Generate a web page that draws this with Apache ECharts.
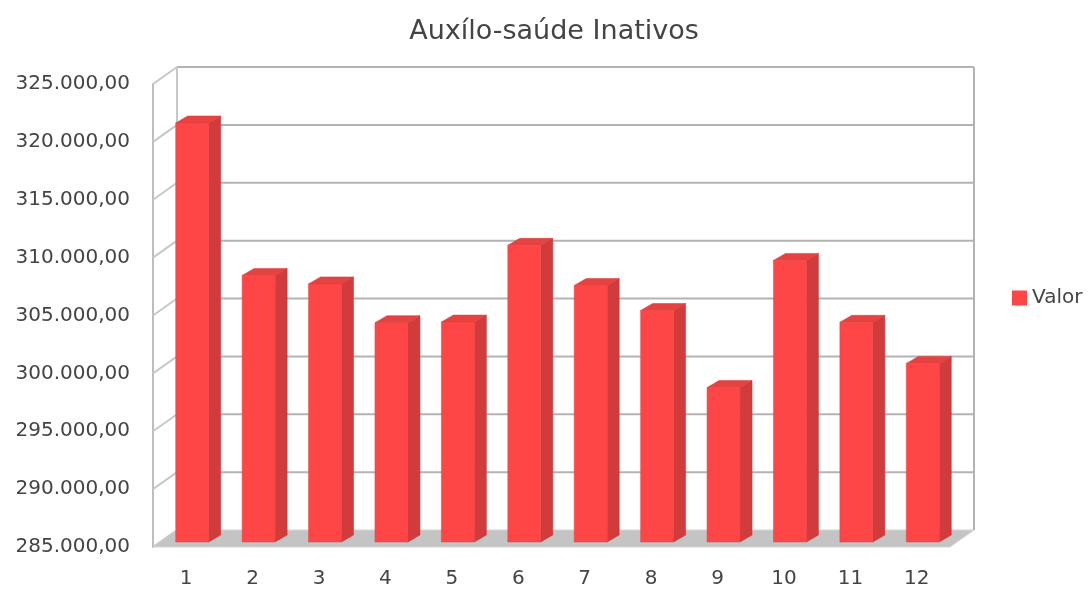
<!DOCTYPE html>
<html>
<head>
<meta charset="utf-8">
<script src="https://cdn.jsdelivr.net/npm/echarts@6/dist/echarts.min.js"></script>
<style>
html,body{margin:0;padding:0;background:#fff;}
#chart{width:1089px;height:591px;}
</style>
</head>
<body>
<div id="chart"></div>
<script>
const titleText = 'Auxílo-saúde Inativos';
const seriesName = 'Valor';
const categories = ['1','2','3','4','5','6','7','8','9','10','11','12'];
const values = [321200, 308030, 307300, 303950, 304000, 310630, 307160, 305000, 298340, 309330, 303980, 300430];
const yTicks = [285000, 290000, 295000, 300000, 305000, 310000, 315000, 320000, 325000];

const FONT = 'DejaVu Sans';
const DEPTH_X = 24, DEPTH_Y = -17;   // front-to-back wall offset
const BAR_OFF_X = 6, BAR_OFF_Y = -5; // bar front face plane
const BAR_W = 33, BAR_DX = 12, BAR_DY = -7;

function fmt(v){
  const s = Math.round(v).toString().replace(/\B(?=(\d{3})+(?!\d))/g, '.');
  return s + ',00';
}

const chart = echarts.init(document.getElementById('chart'));

const option = {
  backgroundColor: '#ffffff',
  animation: false,
  title: {
    text: titleText,
    left: 549, top: 13, textAlign: 'center',
    textStyle: {fontFamily: FONT, fontSize: 27, fontWeight: 'normal', color: '#444'}
  },
  legend: {
    data: [seriesName],
    left: 1007, top: 283,
    itemWidth: 15, itemHeight: 15, itemGap: 8,
    icon: 'rect',
    textStyle: {fontFamily: FONT, fontSize: 20, color: '#444'}
  },
  grid: {left: 153, top: 84, width: 797, height: 463, containLabel: false},
  xAxis: {
    type: 'category', data: categories,
    axisLine: {show: false}, axisTick: {show: false},
    axisLabel: {margin: 22, fontFamily: FONT, fontSize: 20, color: '#444'},
    splitLine: {show: false}
  },
  yAxis: {
    type: 'value', min: 285000, max: 325000, interval: 5000,
    axisLine: {show: true, lineStyle: {color: '#bdbdbd', width: 2}},
    axisTick: {show: false},
    splitLine: {show: false},
    axisLabel: {margin: 23, fontFamily: FONT, fontSize: 20, color: '#444', formatter: fmt}
  },
  series: [
    {
      type: 'custom', name: 'walls', silent: true, z: 1,
      data: [[0]],
      renderItem: function(params, api){
        const cs = params.coordSys;
        const x0 = cs.x, x1 = cs.x + cs.width, yb = cs.y + cs.height;
        const ch = [];
        // floor
        ch.push({type: 'polygon', shape: {points: [[x0, yb], [x1, yb], [x1 + DEPTH_X, yb + DEPTH_Y], [x0 + DEPTH_X, yb + DEPTH_Y]]},
          style: {fill: '#c4c4c4', stroke: '#d4d4d4', lineWidth: 1}});
        // back wall horizontal lines and left side diagonals
        yTicks.forEach(function(v){
          const y = api.coord([0, v])[1];
          if (v > yTicks[0]) {
            ch.push({type: 'line', shape: {x1: x0 + DEPTH_X, y1: y + DEPTH_Y, x2: x1 + DEPTH_X, y2: y + DEPTH_Y},
              style: {stroke: '#b3b3b3', lineWidth: 2}});
          }
          ch.push({type: 'line', shape: {x1: x0, y1: y, x2: x0 + DEPTH_X, y2: y + DEPTH_Y},
            style: {stroke: '#c8c8c8', lineWidth: 2}});
        });
        const yTop = api.coord([0, yTicks[yTicks.length - 1]])[1];
        // back wall vertical edges
        ch.push({type: 'line', shape: {x1: x0 + DEPTH_X, y1: yTop + DEPTH_Y, x2: x0 + DEPTH_X, y2: yb + DEPTH_Y},
          style: {stroke: '#c8c8c8', lineWidth: 2}});
        ch.push({type: 'line', shape: {x1: x1 + DEPTH_X, y1: yTop + DEPTH_Y, x2: x1 + DEPTH_X, y2: yb + DEPTH_Y},
          style: {stroke: '#b3b3b3', lineWidth: 2}});
        return {type: 'group', children: ch};
      }
    },
    {
      type: 'custom', name: seriesName, z: 3,
      itemStyle: {color: '#ff4646'},
      data: values.map(function(v, i){ return [i, v]; }),
      renderItem: function(params, api){
        const top = api.coord([api.value(0), api.value(1)]);
        const bot = api.coord([api.value(0), yTicks[0]]);
        const xl = top[0] - BAR_W / 2 + BAR_OFF_X, xr = xl + BAR_W;
        const yt = top[1] + BAR_OFF_Y, yb = bot[1] + BAR_OFF_Y;
        return {type: 'group', children: [
          {type: 'polygon', shape: {points: [[xr, yt], [xr + BAR_DX, yt + BAR_DY], [xr + BAR_DX, yb + BAR_DY], [xr, yb]]},
            style: {fill: '#d23b3b', stroke: '#c83434', lineWidth: 0.5}},
          {type: 'polygon', shape: {points: [[xl, yt], [xl + BAR_DX, yt + BAR_DY], [xr + BAR_DX, yt + BAR_DY], [xr, yt]]},
            style: {fill: '#e54242', stroke: '#d83a3a', lineWidth: 0.5}},
          {type: 'rect', shape: {x: xl, y: yt, width: BAR_W, height: yb - yt},
            style: {fill: '#ff4646', stroke: '#ee3e3e', lineWidth: 0.5}}
        ]};
      }
    }
  ]
};
chart.setOption(option);
</script>
</body>
</html>
